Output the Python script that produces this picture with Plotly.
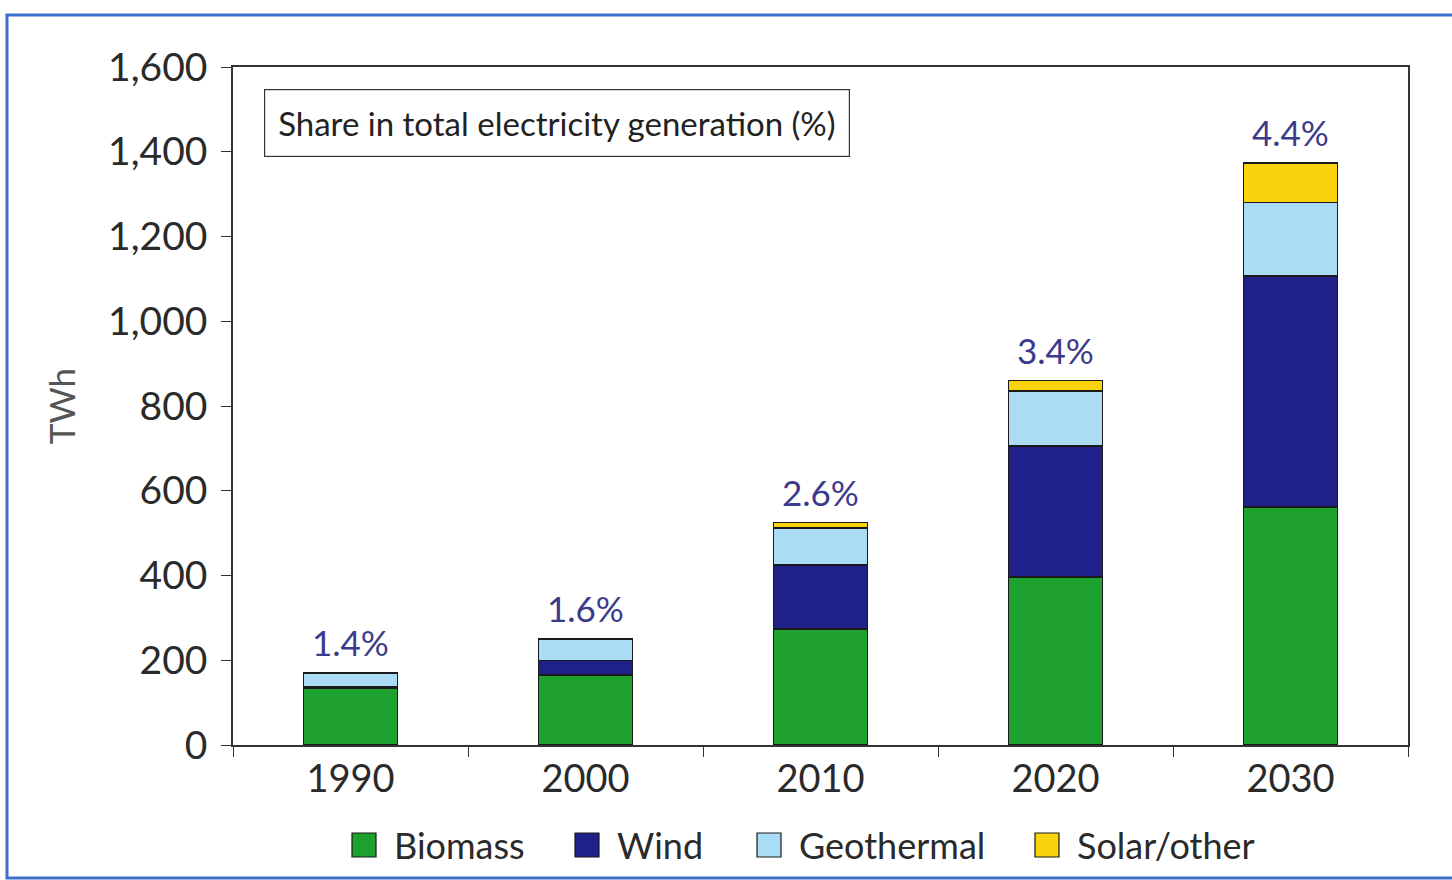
import plotly.graph_objects as go

years = ["1990", "2000", "2010", "2020", "2030"]
biomass = [135, 165, 274, 396, 562]
wind = [2, 35, 151, 310, 545]
geothermal = [33, 50, 87, 129, 173]
solar = [0, 0, 13, 25, 93]
share_labels = ["1.4%", "1.6%", "2.6%", "3.4%", "4.4%"]
y_ticks = [0, 200, 400, 600, 800, 1000, 1200, 1400, 1600]
y_tick_text = ["0", "200", "400", "600", "800", "1,000", "1,200", "1,400", "1,600"]

FONT = "Lato, 'Open Sans', sans-serif"
W = 400
series = [
    ("Biomass", biomass, "#1fa12f"),
    ("Wind", wind, "#20208a"),
    ("Geothermal", geothermal, "#aadcf6"),
    ("Solar/other", solar, "#f9d30c"),
]

L, R, T, B = 233, 1408, 67, 745
PW, PH = R - L, B - T


def px(x):
    return (x - L) / PW


def py(y):
    return (B - y) / PH


fig = go.Figure()
for name, vals, col in series:
    fig.add_trace(go.Bar(
        x=years, y=vals, name=name, width=0.4, showlegend=False,
        marker=dict(color=col, line=dict(color="#1a1a1a", width=1.5)),
    ))

totals = [b + w + g + s for b, w, g, s in zip(biomass, wind, geothermal, solar)]
for i, (tot, lab) in enumerate(zip(totals, share_labels)):
    fig.add_annotation(x=i, y=tot, text=lab, showarrow=False, yanchor="bottom",
                       yshift=8, font=dict(family=FONT, size=35, color="#3b3b8c", weight=W))

fig.add_annotation(xref="paper", yref="paper", x=px(264), y=py(123),
                   xanchor="left", yanchor="middle", showarrow=False,
                   text="Share in total electricity generation (%)",
                   font=dict(family=FONT, size=33, color="#222", weight=W),
                   bordercolor="#333", borderwidth=1.2, borderpad=13, bgcolor="white")

# manual legend (large square swatches)
legend_x = [352, 575, 757, 1035]
for (name, vals, col), lx in zip(series, legend_x):
    fig.add_shape(type="rect", xref="paper", yref="paper",
                  x0=px(lx), x1=px(lx + 24), y0=py(857), y1=py(833),
                  fillcolor=col, line=dict(color="#1a1a1a", width=1.2))
    fig.add_annotation(xref="paper", yref="paper", x=px(lx + 40), y=py(845),
                       xanchor="left", yanchor="middle", showarrow=False, text=name,
                       font=dict(family=FONT, size=36, color="#2a2a2a", weight=W))

# outer blue frame
fig.add_shape(type="rect", xref="paper", yref="paper",
              x0=px(7), x1=px(1470), y0=py(878), y1=py(15),
              line=dict(color="#3d6fcc", width=3), layer="below")

fig.update_layout(
    width=1452, height=880,
    margin=dict(l=L, r=1452 - R, t=T, b=880 - B, autoexpand=False),
    barmode="stack", bargap=0.6,
    plot_bgcolor="white", paper_bgcolor="white",
    font=dict(family=FONT, color="#333"),
    showlegend=False,
    xaxis=dict(type="category", range=[-0.5, 4.5], showline=True, linecolor="#333",
               linewidth=1.5, mirror=True,
               ticks="outside", tickson="boundaries", ticklen=10, tickcolor="#333",
               tickfont=dict(family=FONT, size=38, color="#2a2a2a", weight=W), showgrid=False,
               tickangle=0, automargin=False),
    yaxis=dict(range=[0, 1600], tickvals=y_ticks, ticktext=y_tick_text,
               showline=True, linecolor="#333", linewidth=1.5, mirror=True,
               ticks="outside", ticklen=10, tickcolor="#333", showgrid=False,
               ticklabelstandoff=6,
               tickfont=dict(family=FONT, size=39, color="#2a2a2a", weight=W), automargin=False,
               title=dict(text="TWh", font=dict(family=FONT, size=35, color="#555", weight=W),
                          standoff=22)),
)

fig.write_html("out.html", post_script="document.body.style.margin='0';",
               config={"displayModeBar": False})
